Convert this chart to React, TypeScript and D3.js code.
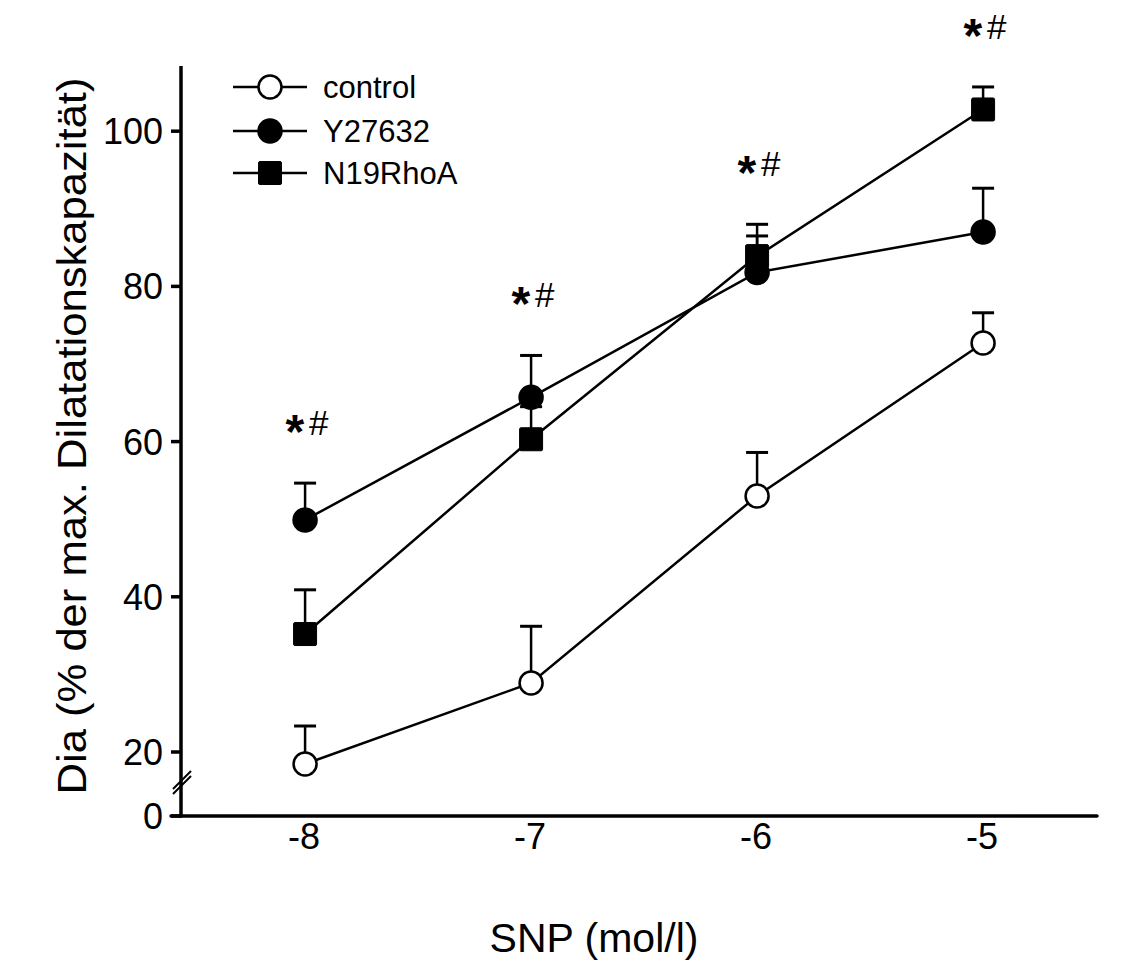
import React from "react";
import * as d3 from "d3";

const xValues = [-8, -7, -6, -5];
const xTickLabels = ["-8", "-7", "-6", "-5"];
const yTicks = [0, 20, 40, 60, 80, 100];

const controlMean = [18.45, 28.9, 53.0, 72.7];
const controlErr = [4.9, 7.3, 5.6, 3.9];
const y27632Mean = [49.9, 65.7, 81.8, 87.0];
const y27632Err = [4.75, 5.4, 4.7, 5.65];
const n19Mean = [35.2, 60.3, 83.9, 102.8];
const n19Err = [5.7, 4.2, 4.1, 2.9];

const sigLabels = ["*#", "*#", "*#", "*#"];

const seriesNames = ["control", "Y27632", "N19RhoA"];

const W = 1147;
const H = 962;
const FONT = "'Liberation Sans', Arial, Helvetica, sans-serif";

export default function App() {
  const x = d3.scaleLinear().domain([-8.549, -4.496]).range([181, 1097]);
  // broken axis: linear from 15 upward, compressed segment 0..15 below the break
  const y = d3.scaleLinear().domain([0, 15, 108.4]).range([816, 790.8, 66]);

  const series = [
    { name: seriesNames[0], mean: controlMean, err: controlErr, shape: "circle", fill: "#fff" },
    { name: seriesNames[1], mean: y27632Mean, err: y27632Err, shape: "circle", fill: "#000" },
    { name: seriesNames[2], mean: n19Mean, err: n19Err, shape: "square", fill: "#000" },
  ];

  const line = d3
    .line<number>()
    .x((_, i) => x(xValues[i]))
    .y((d) => y(d));

  const marker = (shape: string, fill: string, cx: number, cy: number, key: string) =>
    shape === "circle" ? (
      <circle key={key} cx={cx} cy={cy} r={11.5} fill={fill} stroke="#000" strokeWidth={2.5} />
    ) : (
      <rect key={key} x={cx - 11.5} y={cy - 11.5} width={23} height={23} fill={fill} stroke="#000" strokeWidth={1} rx={1.5} />
    );

  const axisY0 = y(0);
  const axisX0 = x.range()[0];
  const breakY = 781;

  return (
    <svg width={W} height={H} style={{ display: "block", position: "absolute", left: 0, top: 0, background: "#fff" }}>
      <rect x={0} y={0} width={W} height={H} fill="#fff" />
      {/* error bars */}
      {series.map((s) =>
        s.mean.map((m, i) => {
          const cx = x(xValues[i]);
          const top = y(m + s.err[i]);
          return (
            <g key={s.name + "e" + i} stroke="#000" strokeWidth={2.5}>
              <line x1={cx} x2={cx} y1={y(m)} y2={top} />
              <line x1={cx - 11} x2={cx + 11} y1={top} y2={top} strokeWidth={3} />
            </g>
          );
        })
      )}
      {/* lines */}
      {series.map((s) => (
        <path key={s.name + "l"} d={line(s.mean) || ""} fill="none" stroke="#000" strokeWidth={2.5} />
      ))}
      {/* markers: squares first, then circles */}
      {[series[2], series[0], series[1]].map((s) =>
        s.mean.map((m, i) => marker(s.shape, s.fill, x(xValues[i]), y(m), s.name + "m" + i))
      )}

      {/* significance labels */}
      {sigLabels.map((lab, i) => {
        const cx = x(xValues[i]);
        const tops = series.map((s) => y(s.mean[i] + s.err[i]));
        const cy = Math.min(...tops) - 61;
        return (
          <g key={"sig" + i} fontFamily={FONT} fill="#000">
            <text x={cx - 1} y={cy + 26} textAnchor="end" fontSize={48} fontWeight="bold">
              {lab[0]}
            </text>
            <text x={cx + 4} y={cy + 13} textAnchor="start" fontSize={35}>
              {lab[1]}
            </text>
          </g>
        );
      })}

      {/* axes */}
      <line x1={axisX0} x2={axisX0} y1={66} y2={axisY0 + 1.5} stroke="#000" strokeWidth={3.5} />
      <line x1={axisX0 - 10} x2={x.range()[1]} y1={axisY0} y2={axisY0} stroke="#000" strokeWidth={3.5} strokeLinecap="round" />
      {/* break marks */}
      <g stroke="#000" strokeWidth={2}>
        <line x1={axisX0 - 8} x2={axisX0 + 10} y1={breakY + 8} y2={breakY - 10} />
        <line x1={axisX0 - 8} x2={axisX0 + 10} y1={breakY + 13} y2={breakY - 5} />
      </g>
      {yTicks.map((t) => (
        <g key={"yt" + t}>
          <line x1={axisX0 - 10} x2={axisX0} y1={y(t)} y2={y(t)} stroke="#000" strokeWidth={3.5} />
          <text x={163} y={y(t) + 13} textAnchor="end" fontSize={36} fontFamily={FONT} fill="#000">
            {t}
          </text>
        </g>
      ))}
      {xValues.map((v, i) => (
        <text key={"xt" + v} x={x(v) - 1} y={849} textAnchor="middle" fontSize={36} fontFamily={FONT} fill="#000">
          {xTickLabels[i]}
        </text>
      ))}

      {/* axis titles */}
      <text x={594} y={952} textAnchor="middle" fontSize={41} fontFamily={FONT} fill="#000">
        SNP (mol/l)
      </text>
      <text
        transform={`translate(86, 436) rotate(-90)`}
        textAnchor="middle"
        fontSize={41}
        fontFamily={FONT}
        fill="#000"
        textLength={717}
        lengthAdjust="spacingAndGlyphs"
      >
        Dia (% der max. Dilatationskapazität)
      </text>

      {/* legend */}
      {series.map((s, i) => {
        const ly = [87, 131, 173][i];
        return (
          <g key={"leg" + s.name}>
            <line x1={233} x2={307} y1={ly} y2={ly} stroke="#000" strokeWidth={2.5} />
            {marker(s.shape, s.fill, 270, ly, "legm" + i)}
            <text x={323} y={ly + 11} fontSize={31} fontFamily={FONT} fill="#000">
              {s.name}
            </text>
          </g>
        );
      })}
    </svg>
  );
}
